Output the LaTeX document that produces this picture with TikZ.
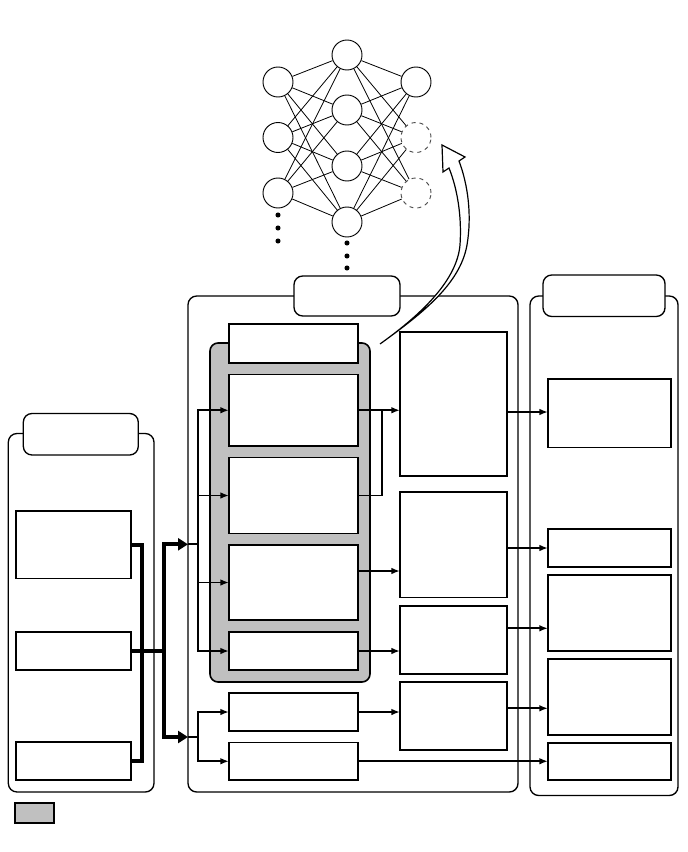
\documentclass[tikz,border=0pt]{standalone}
\usetikzlibrary{fit,arrows.meta,calc}
\definecolor{grayfill}{HTML}{C0C0C0}
\begin{document}
\begin{tikzpicture}[x=0.75pt,y=-0.75pt,
  box/.style={draw, line width=1.2pt, inner sep=0pt, outer sep=0pt, fill=white},
  panel/.style={draw, line width=1pt, inner sep=0pt, outer sep=0pt, rounded corners=6.5pt, fill=white},
  grayzone/.style={draw, line width=1.2pt, inner sep=0pt, outer sep=0pt, rounded corners=6pt, fill=grayfill},
  neuron/.style={circle, draw, line width=0.7pt, minimum size=22.5pt, inner sep=0pt, fill=white},
  dneuron/.style={neuron, dashed, draw=black!70},
  dotnode/.style={circle, fill=black, minimum size=3.8pt, inner sep=0pt},
  edge/.style={line width=0.6pt},
  ln/.style={line width=1.3pt},
  arr/.style={line width=1.3pt, -{Latex[length=6.5pt,width=5pt]}},
  thickln/.style={line width=3pt},
  thickarr/.style={line width=3pt, -{Triangle[length=7.5pt,width=9pt]}}
]
\useasboundingbox (0,0) rectangle (688,852);

% ---------- neural network ----------
\node[neuron] (l1) at (278,82) {};
\node[neuron] (l2) at (278,137.5) {};
\node[neuron] (l3) at (278,193) {};
\node[neuron] (m1) at (347,55) {};
\node[neuron] (m2) at (347,110) {};
\node[neuron] (m3) at (347,166) {};
\node[neuron] (m4) at (347,222) {};
\node[neuron] (r1) at (416,82) {};
\node[dneuron] (r2) at (416,137.5) {};
\node[dneuron] (r3) at (416,193) {};
\foreach \a in {l1,l2,l3}{\foreach \b in {m1,m2,m3,m4}{\draw[edge] (\a) -- (\b);}}
\foreach \a in {m1,m2,m3,m4}{\foreach \b in {r1,r2,r3}{\draw[edge] (\a) -- (\b);}}
\node[dotnode] (dl1) at (278,215) {};
\node[dotnode] (dl2) at (278,228) {};
\node[dotnode] (dl3) at (278,241) {};
\node[dotnode] (dm1) at (347,243) {};
\node[dotnode] (dm2) at (347,256) {};
\node[dotnode] (dm3) at (347,268) {};

% ---------- left panel ----------
\node[panel, fit={(8.3,433.5) (154,792)}] (LP) {};
\node[panel, fit={(23.3,413.5) (138.3,455)}] (LT) {};
\node[box, fit={(16,511) (130.7,578.3)}] (LB1) {};
\node[box, fit={(16,632) (130.7,670)}] (LB2) {};
\node[box, fit={(16,742) (130.7,780)}] (LB3) {};

% ---------- middle panel ----------
\node[panel, fit={(188,296) (518,792)}] (MP) {};
\node[panel, fit={(294,276) (400,316)}] (MT) {};
\node[grayzone, fit={(210,343) (370,682)}] (GR) {};
\node[box, fit={(229,324) (358,363)}] (TB) {};
\node[box, fit={(229,374.5) (358,446)}] (B1) {};
\node[box, fit={(229,457.5) (358,533.5)}] (B2) {};
\node[box, fit={(229,545) (358,620)}] (B3) {};
\node[box, fit={(229,632) (358,670)}] (B4) {};
\node[box, fit={(229,693) (358,731)}] (B5) {};
\node[box, fit={(229,742.5) (358,780)}] (B6) {};
\node[box, fit={(400,332) (507,476)}] (R1) {};
\node[box, fit={(400,492) (507,597.5)}] (R2) {};
\node[box, fit={(400,606) (507,674)}] (R3) {};
\node[box, fit={(400,682) (507,750)}] (R4) {};

% ---------- right panel ----------
\node[panel, fit={(530,296) (678,795.5)}] (RP) {};
\node[panel, fit={(543,275) (665,316.5)}] (RT) {};
\node[box, fit={(548,379) (671,447.5)}] (RB1) {};
\node[box, fit={(548,529) (671,567)}] (RB2) {};
\node[box, fit={(548,575) (671,651)}] (RB3) {};
\node[box, fit={(548,659) (671,735)}] (RB4) {};
\node[box, fit={(548,743) (671,780)}] (RB5) {};

% ---------- legend ----------
\node[box, fill=grayfill, fit={(15,803) (54,823)}] (LEG) {};

% ---------- thick connectors ----------
\coordinate (J) at (163.5,651);
\draw[thickln] (LB1.east) -| (142,761) -- (LB3.east);
\draw[thickln] (LB2.east) -- (J);
\draw[thickarr] (J) |- (MP.west |- 0,544.3);
\draw[thickarr] (J) |- (MP.west |- 0,737);

% ---------- thin connectors ----------
\coordinate (S1) at (198.3,544.3);
\coordinate (S2) at (198.3,737);
\draw[ln] (MP.west |- S1) -- (S1);
\draw[arr] (S1) |- (B1.west);
\draw[arr] (S1) |- (B4.west);
\draw[arr] (S1 |- B2.west) -- (B2.west);
\draw[arr] (S1 |- B3.west) -- (B3.west);
\draw[ln] (MP.west |- S2) -- (S2);
\draw[arr] (S2) |- (B5.west);
\draw[arr] (S2) |- (B6.west);

\draw[arr] (B1.east) -- (R1.west |- B1.east);
\draw[ln] (B2.east) -| (381.7,0 |- B1.east);
\draw[arr] (B3.east |- 0,571) -- (R2.west |- 0,571);
\draw[arr] (B4.east) -- (R3.west |- B4.east);
\draw[arr] (B5.east) -- (R4.west |- B5.east);
\draw[arr] (B6.east) -- (RB5.west |- B6.east);

\draw[arr] (R1.east |- 0,412) -- (RB1.west |- 0,412);
\draw[arr] (R2.east |- RB2.west) -- (RB2.west);
\draw[arr] (R3.east |- 0,628.3) -- (RB3.west |- 0,628.3);
\draw[arr] (R4.east |- 0,708.3) -- (RB4.west |- 0,708.3);

% ---------- hollow curved arrow ----------
\draw[fill=white, line width=0.9pt, line join=miter]
  (380,344) .. controls (420,315) and (460,285) .. (467,245)
  .. controls (472,215) and (468,185) .. (459,161)
  -- (465,157) -- (442,145) -- (443,172) -- (449,168)
  .. controls (457,188) and (462,215) .. (460,245)
  .. controls (457,280) and (422,314) .. (380,344) -- cycle;
\end{tikzpicture}
\end{document}
